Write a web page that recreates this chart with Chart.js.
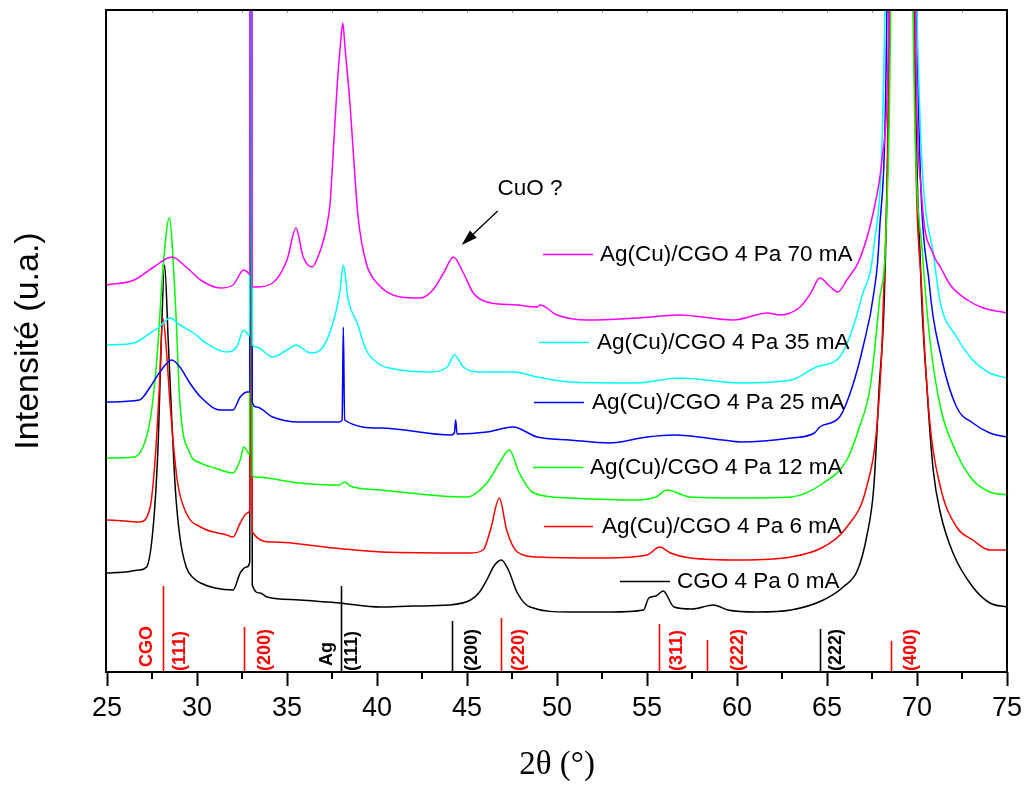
<!DOCTYPE html>
<html><head><meta charset="utf-8">
<script src="https://cdn.jsdelivr.net/npm/chart.js@4.4.0/dist/chart.umd.min.js"></script>
<style>html,body{margin:0;padding:0;background:#fff;}#wrap{width:1029px;height:789px;}</style>
</head><body><div id="wrap"><canvas id="c" width="1029" height="789"></canvas></div>
<script>
// ---------- DATA (2θ in degrees, intensity in arbitrary units, offset stacks) ----------
const seriesLabels = ['Ag(Cu)/CGO 4 Pa 70 mA','Ag(Cu)/CGO 4 Pa 35 mA','Ag(Cu)/CGO 4 Pa 25 mA','Ag(Cu)/CGO 4 Pa 12 mA','Ag(Cu)/CGO 4 Pa 6 mA','CGO 4 Pa 0 mA'];
const seriesColors = ['#ff00ff','#00ffff','#0000ff','#00ff00','#ff0000','#000000'];

const pattern70mA = [[25,387],[26.5,392],[27.6,405],[28.6,415],[29.4,405],[30.2,392],[31.3,384],[32,387],[32.6,402],[32.85,399],[32.93,397],[33,3000],[33.07,385],[33.3,385],[34.2,389],[35,412],[35.5,444],[35.9,415],[36.4,405],[36.8,419],[37.0,430],[37.2,445],[37.4,470],[37.6,530],[37.8,590],[37.98,630],[38.1,649],[38.22,625],[38.5,568],[38.7,515],[38.95,455],[39.4,409],[40,389],[41.3,375],[42.4,374],[43.1,382],[43.7,399],[44.25,415],[44.8,399],[45.35,379],[46.1,370],[47.8,367],[48.9,365],[49.05,367],[50,357],[51.7,352],[54.4,354],[56.8,357],[59.8,352],[61.7,359],[62.4,357],[63.5,365],[64.1,379],[64.6,394],[65.2,385],[65.6,380],[66.1,392],[66.8,412],[67.6,462],[68.05,512],[68.45,680],[69.2,3000],[69.9,680],[70.25,479],[70.9,418],[71.3,405],[71.85,387],[72.8,372],[73.7,364],[75,359]];
const pattern35mA = [[25,327],[26.5,329],[27.4,339],[27.9,345],[28.5,354],[29.05,347],[29.8,339],[30.5,329],[31.65,320],[32.2,325],[32.6,342],[32.85,337],[32.93,336],[33,3000],[33.07,327],[33.3,325],[34.2,315],[35,322],[35.5,327],[36.3,319],[37,325],[37.6,352],[37.95,382],[38.13,407],[38.4,372],[38.9,349],[39.4,322],[40.2,307],[40.7,304],[42.9,300],[43.9,305],[44.3,317],[44.8,305],[45.6,300],[47.6,300],[48.9,295],[50.7,290],[54.4,289],[56.8,294],[60.2,289],[63,292],[64.4,305],[65.7,315],[66.4,342],[67,379],[67.6,425],[68.25,700],[69.1,3000],[69.95,700],[70.9,419],[71.3,369],[72.2,335],[73.1,312],[74.05,299],[75,294]];
const pattern25mA = [[25,270],[26.8,272],[27.4,285],[27.9,299],[28.6,312],[29.05,305],[29.6,289],[30.2,275],[31.3,262],[32,262],[32.4,275],[32.8,280],[32.93,280],[33,3000],[33.07,270],[33.3,265],[34.2,255],[35.7,250],[37.9,250],[38.06,252],[38.13,345],[38.2,252],[40.2,244],[44.1,237],[44.3,239],[44.37,252],[44.45,238],[46.1,240],[47.55,245],[48.9,235],[50.7,232],[52.9,229],[55,235],[56.5,237],[59.2,232],[60.2,230],[63,234],[64.3,239],[64.6,245],[65.7,255],[66.4,285],[67,325],[67.6,379],[67.9,435],[68.35,700],[69.15,3000],[69.95,700],[70.7,385],[71.3,319],[72.2,265],[73.1,249],[74.05,239],[75,235]];
const pattern12mA = [[25,214],[26.5,215],[27,225],[27.4,252],[27.8,319],[28.1,402],[28.46,454],[28.8,369],[29.05,269],[29.6,219],[30.2,209],[31,204],[32,199],[32.4,212],[32.6,225],[32.85,219],[32.93,217],[33,3000],[33.07,197],[33.2,195],[35.7,189],[37.9,187],[38.2,190],[38.5,186],[40.2,182],[45,175],[46.1,189],[46.8,209],[47.35,222],[47.9,199],[48.7,179],[50.7,174],[54.4,172],[55.5,175],[56.1,182],[57.4,175],[60.2,174],[63,175],[64.8,189],[66.1,212],[66.8,245],[67.4,285],[67.9,369],[68.3,452],[68.55,700],[69.15,3000],[69.75,700],[70.3,419],[70.7,335],[71.3,265],[72.2,219],[73.1,192],[74.05,180],[75,177]];
const pattern6mA = [[25,152],[26,151],[26.8,150],[27.4,165],[27.7,219],[27.9,282],[28.1,354],[28.3,322],[28.5,269],[28.9,192],[29.4,159],[30.2,145],[31.65,137],[32,135],[32.4,149],[32.8,159],[32.93,162],[33,3000],[33.07,140],[34.2,130],[37.6,124],[40.2,120],[45.2,119],[45.9,122],[46.3,142],[46.8,174],[47.2,142],[47.8,120],[48.9,115],[52.6,114],[55,117],[55.7,125],[56.3,119],[57.4,114],[60.2,112],[63,115],[64.8,125],[66.1,145],[67.2,185],[67.8,252],[68.1,352],[68.48,700],[69.15,3000],[69.8,700],[70.3,369],[70.7,252],[71.3,185],[72.2,145],[73.1,132],[74.05,122],[75,122]];
const pattern0mA = [[25,99],[26,100],[26.8,102],[27.2,105],[27.6,152],[27.85,232],[28,322],[28.2,407],[28.4,332],[28.6,252],[28.8,182],[29.05,135],[29.4,105],[29.8,94],[30.2,89],[31,84],[32,82],[32.4,99],[32.76,105],[32.93,110],[33,3000],[33.07,87],[33.5,79],[33.9,75],[35.7,72],[37.9,69],[40.2,65],[42,66],[44,67],[45.2,72],[45.7,80],[46.1,92],[46.5,106],[46.9,112],[47.3,102],[47.8,79],[48.5,65],[50.7,60],[53,60],[54.8,62],[55.1,74],[55.5,76],[55.9,81],[56.5,65],[57.5,63],[58.7,67],[59.5,62],[61.1,60],[63,62],[64.8,72],[65.9,85],[66.7,102],[67.2,135],[67.6,185],[67.9,285],[68.2,385],[68.5,700],[69.2,3000],[69.85,700],[70.2,402],[70.55,285],[70.9,202],[71.3,159],[72,119],[73.1,85],[74.05,69],[75,65]];
const patterns = [pattern70mA, pattern35mA, pattern25mA, pattern12mA, pattern6mA, pattern0mA];

// reference (stick) patterns
const cgoPeaks = [28.13, 32.6, 46.87, 55.67, 58.35, 68.54];
const cgoHeights = [86, 45, 54, 48, 32, 31];
const cgoHkl = ['(111)','(200)','(220)','(311)','(222)','(400)'];
const agPeaks = [38.0, 44.18, 64.6];
const agHeights = [86, 51, 43];
const agHkl = ['(111)','(200)','(222)'];

const xTicks = [25,30,35,40,45,50,55,60,65,70,75];

// ---------- layout / style (not data) ----------
const cgoLabelOffsets = [16.7, 21.7, 18.6, 18.3, 31, 20];
const agLabelOffsets = [11.3, 19.4, 16.7];
const legendLayout = [
  {x1:543,x2:593,y:254,tx:600},{x1:539,x2:589,y:342,tx:597},{x1:534,x2:584,y:402,tx:592},
  {x1:533,x2:583,y:467,tx:590},{x1:544,x2:593,y:526,tx:602},{x1:620,x2:670,y:581,tx:677}
];

const SANS = '"Liberation Sans", Arial, sans-serif';

const decor = {
  id: 'decor',
  beforeDatasetsDraw(chart) {
    const {ctx, scales:{x, y}} = chart;
    ctx.save();
    ctx.lineWidth = 1.6;
    const stick = (p, h, col) => {
      const px = Math.round(x.getPixelForValue(p)) + 0.5;
      ctx.strokeStyle = col;
      ctx.beginPath();
      ctx.moveTo(px, y.getPixelForValue(0));
      ctx.lineTo(px, y.getPixelForValue(h));
      ctx.stroke();
    };
    cgoPeaks.forEach((p,i)=>stick(p, cgoHeights[i], '#ff0000'));
    agPeaks.forEach((p,i)=>stick(p, agHeights[i], '#000000'));
    ctx.restore();
  },
  afterDatasetsDraw(chart) {
    const {ctx, chartArea:a, scales:{x, y}} = chart;
    ctx.save();
    ctx.strokeStyle = '#000'; ctx.lineWidth = 2;
    ctx.strokeRect(a.left - 1, a.top, a.right - a.left + 1, a.bottom - a.top);
    for (let v = 27.5; v < 75; v += 5) {
      const px = Math.round(x.getPixelForValue(v));
      ctx.lineWidth = 2; ctx.strokeStyle = '#000';
      ctx.beginPath(); ctx.moveTo(px, a.bottom); ctx.lineTo(px, a.bottom + 7); ctx.stroke();
    }
    ctx.strokeStyle = '#999'; ctx.lineWidth = 1;
    for (let v = 27.5; v < 75; v += 2.5) {
      const px = Math.round(x.getPixelForValue(v)) + 0.5;
      ctx.beginPath(); ctx.moveTo(px, a.top + 1); ctx.lineTo(px, a.top + 3); ctx.stroke();
    }
    const vlabel = (txt, px, col, bottom) => {
      ctx.save();
      ctx.translate(px, bottom);
      ctx.rotate(-Math.PI/2);
      ctx.fillStyle = col;
      ctx.font = 'bold 18px ' + SANS;
      ctx.textAlign = 'left'; ctx.textBaseline = 'middle';
      ctx.fillText(txt, 0, 0);
      ctx.restore();
    };
    const base = a.bottom - 1;
    cgoPeaks.forEach((p,i)=>vlabel(cgoHkl[i], x.getPixelForValue(p) + cgoLabelOffsets[i], '#ff0000', base));
    agPeaks.forEach((p,i)=>vlabel(agHkl[i], x.getPixelForValue(p) + agLabelOffsets[i], '#000000', base));
    vlabel('CGO', x.getPixelForValue(cgoPeaks[0]) - 16.6, '#ff0000', base - 4);
    vlabel('Ag', x.getPixelForValue(agPeaks[0]) - 14.3, '#000000', base - 5);
    ctx.font = '22.5px ' + SANS;
    ctx.textAlign = 'left'; ctx.textBaseline = 'middle';
    chart.data.datasets.forEach((ds, i) => {
      const L = legendLayout[i];
      ctx.strokeStyle = ds.borderColor; ctx.lineWidth = 1.5;
      ctx.beginPath(); ctx.moveTo(L.x1, L.y + 0.5); ctx.lineTo(L.x2, L.y + 0.5); ctx.stroke();
      ctx.fillStyle = '#000';
      ctx.fillText(ds.label, L.tx, L.y + 1);
    });
    ctx.fillStyle = '#000';
    ctx.textAlign = 'center';
    ctx.fillText('CuO ?', 530, 189);
    const x0 = 497.7, y0 = 211, x1 = 461.7, y1 = 245;
    const ang = Math.atan2(y1 - y0, x1 - x0);
    ctx.strokeStyle = '#000'; ctx.lineWidth = 1.3;
    ctx.beginPath(); ctx.moveTo(x0, y0);
    ctx.lineTo(x1 - 12*Math.cos(ang), y1 - 12*Math.sin(ang)); ctx.stroke();
    ctx.beginPath();
    ctx.moveTo(x1, y1);
    ctx.lineTo(x1 - 16*Math.cos(ang) + 5*Math.sin(ang), y1 - 16*Math.sin(ang) - 5*Math.cos(ang));
    ctx.lineTo(x1 - 16*Math.cos(ang) - 5*Math.sin(ang), y1 - 16*Math.sin(ang) + 5*Math.cos(ang));
    ctx.closePath(); ctx.fill();
    ctx.restore();
  }
};

new Chart(document.getElementById('c'), {
  type: 'line',
  data: {
    datasets: patterns.map((pts, i) => ({
      label: seriesLabels[i],
      data: pts.map(p => ({x: p[0], y: p[1]})),
      borderColor: seriesColors[i],
      borderWidth: 1.5,
      pointRadius: 0,
      cubicInterpolationMode: 'monotone',
      fill: false
    }))
  },
  options: {
    responsive: false,
    devicePixelRatio: 1,
    animation: false,
    layout: { padding: { top: 10, right: 22, left: 0, bottom: 0 } },
    plugins: { legend: { display: false }, tooltip: { enabled: false } },
    scales: {
      x: {
        type: 'linear', min: 25, max: 75,
        afterBuildTicks: s => { s.ticks = xTicks.map(v => ({value: v})); },
        afterFit: s => { s.height = 117; },
        ticks: { autoSkip: false, maxRotation: 0, padding: 6, color: '#000', font: { family: SANS, size: 27 } },
        grid: { display: true, drawOnChartArea: false, drawTicks: true, tickLength: 14, tickWidth: 2, tickColor: '#000', color: '#000' },
        border: { display: false },
        title: { display: true, text: '2θ (°)', color: '#000', font: { family: '"Liberation Serif", "Times New Roman", serif', size: 33 }, padding: { top: 0, bottom: 4 } }
      },
      y: {
        type: 'linear', min: 0, max: 662,
        afterFit: s => { s.width = 107; },
        ticks: { display: false },
        grid: { display: false },
        border: { display: false },
        title: { display: true, text: 'Intensité (u.a.)', color: '#000', font: { family: SANS, size: 34 }, padding: { top: 8, bottom: 0 } }
      }
    }
  },
  plugins: [decor]
});
</script>
</body></html>
